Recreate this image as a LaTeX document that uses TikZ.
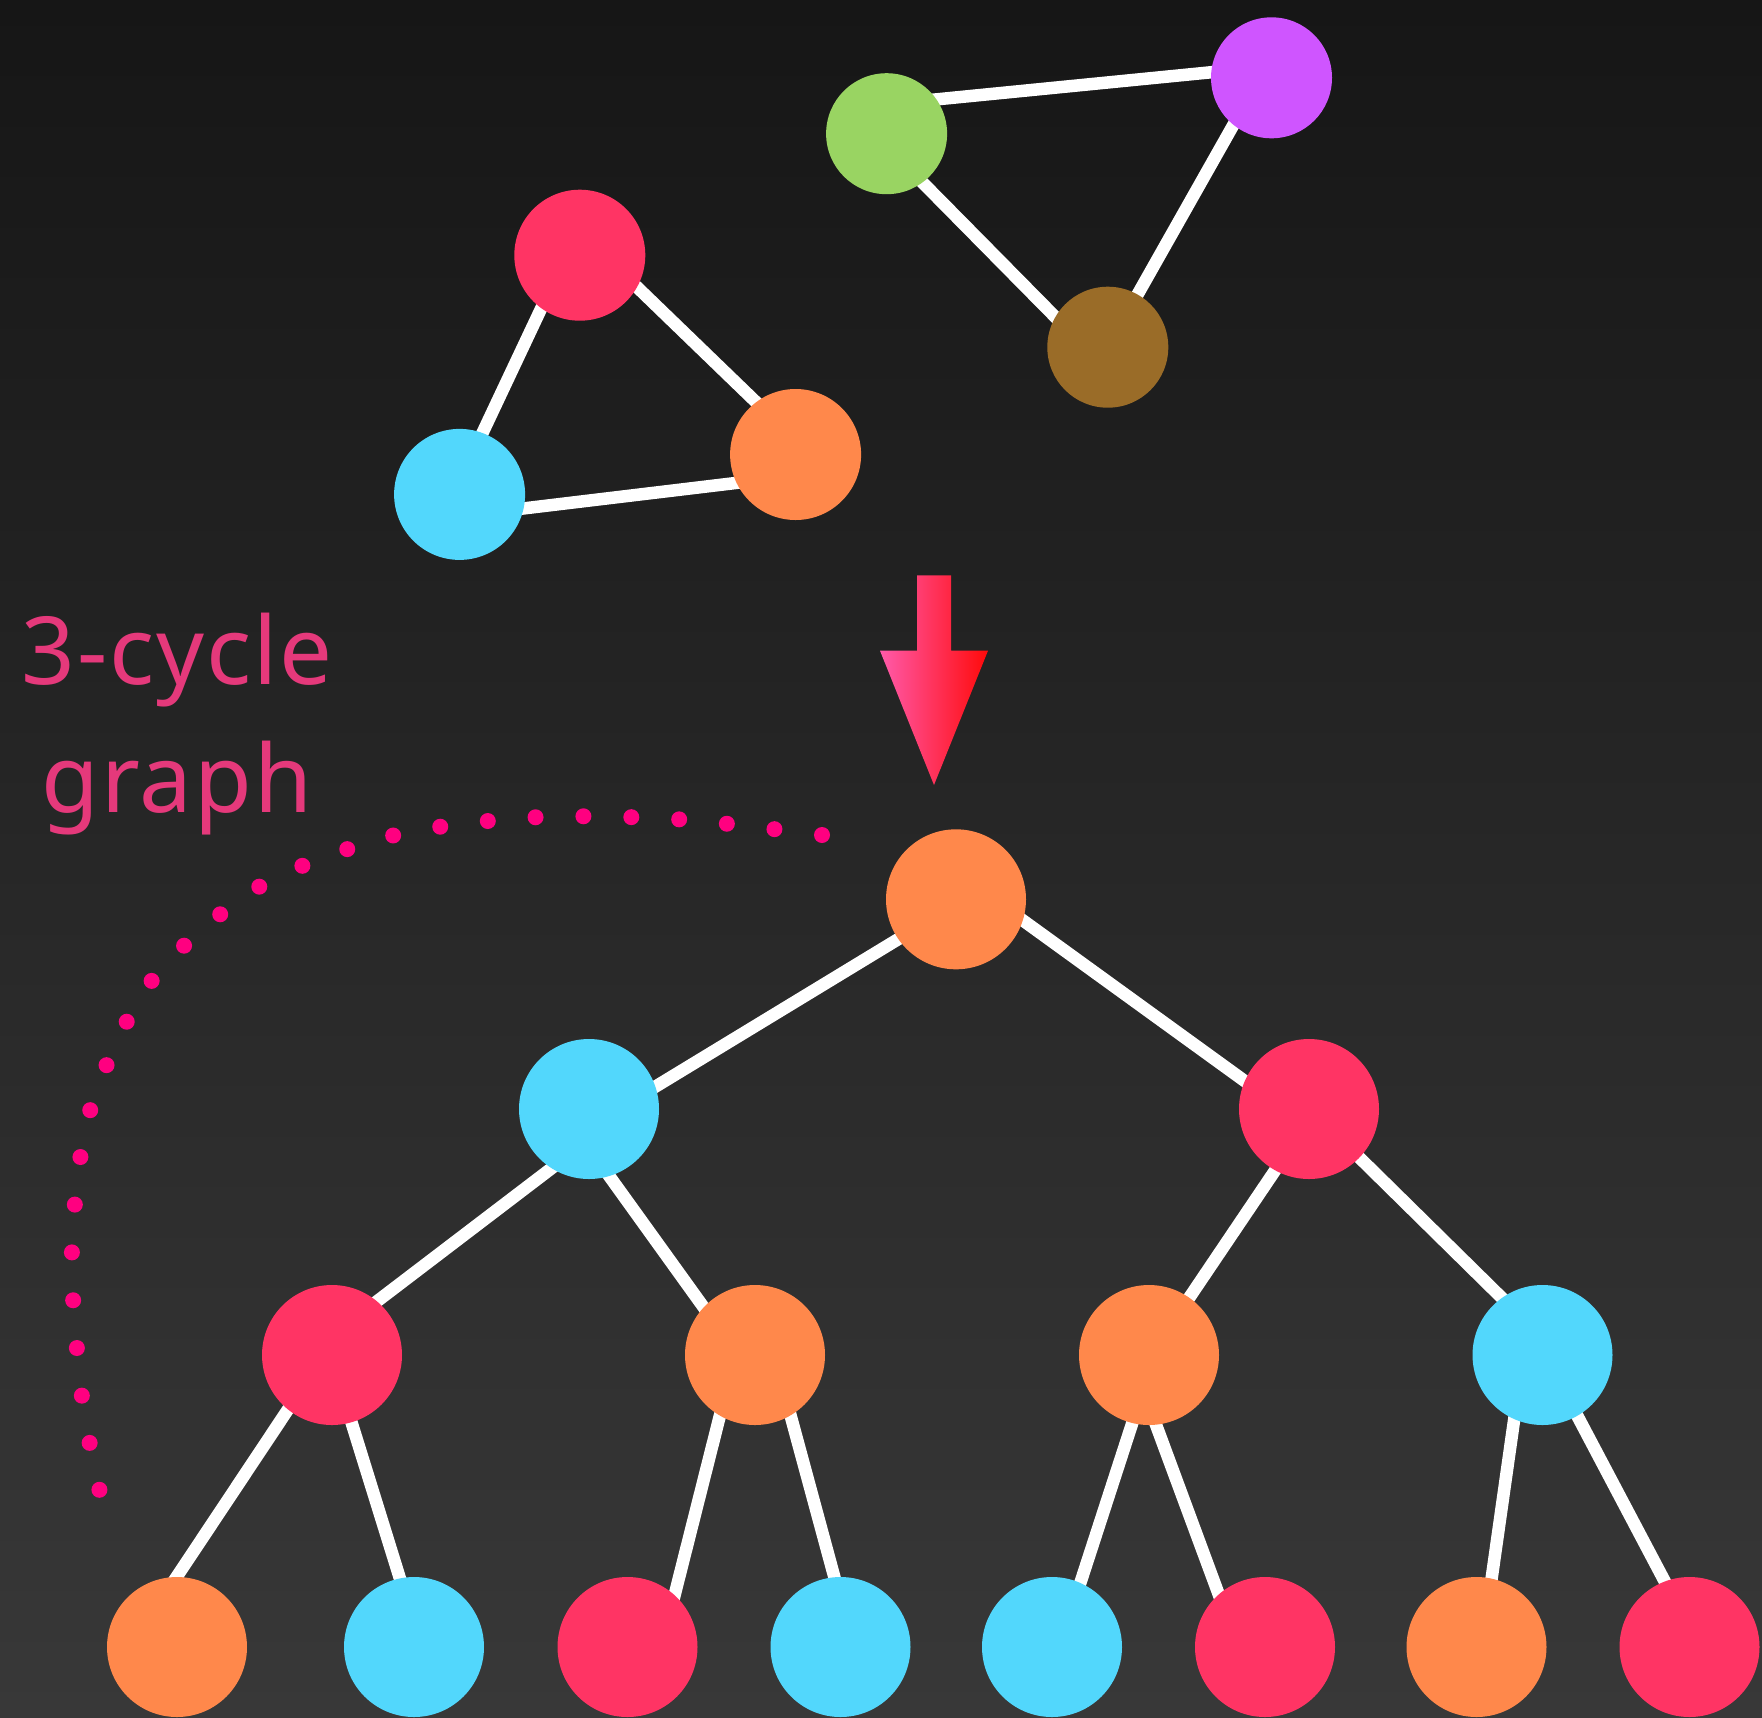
\documentclass[tikz,border=0pt]{standalone}
\usepackage{fontspec}
\newfontfamily\labelfont[LetterSpace=2]{Noto Sans}
\usetikzlibrary{calc}

\definecolor{bgtop}{HTML}{161616}
\definecolor{bgbot}{HTML}{383838}
\definecolor{vorange}{HTML}{FF884B}
\definecolor{vcyan}{HTML}{52D7FC}
\definecolor{vred}{HTML}{FF3464}
\definecolor{vgreen}{HTML}{99D462}
\definecolor{vpurple}{HTML}{CF55FF}
\definecolor{vbrown}{HTML}{9A6C28}
\definecolor{labelpink}{HTML}{E5397B}
\definecolor{dotpink}{HTML}{FF0080}
\definecolor{arrowleft}{HTML}{FF5AAA}
\definecolor{arrowmid}{HTML}{FF3366}
\definecolor{arrowright}{HTML}{FF0A0A}

\pgfdeclarelayer{bg}
\pgfdeclarelayer{edges}
\pgfsetlayers{bg,edges,main}

\begin{document}
\begin{tikzpicture}[x=1pt,y=-1pt,
  vtx/.style={circle,inner sep=0pt,draw=none,minimum size=140pt},
  small/.style={minimum size=121pt},
  mid/.style={minimum size=131pt},
  edge/.style={draw=white,line width=12.5pt},
  lbl/.style={text=labelpink,font=\labelfont\fontsize{94}{120}\selectfont,inner sep=0pt,anchor=base},
  dotted curve/.style={draw=dotpink,line width=16pt,line cap=round,dash pattern=on 0pt off 47.9pt}
]
\useasboundingbox (0,0) rectangle (1762,1717);
\begin{pgfonlayer}{bg}
  \shade[top color=bgtop,bottom color=bgbot] (0,0) rectangle (1762,1717);
\end{pgfonlayer}

% two triangles
\node[vtx,small,fill=vgreen]  (g)  at (886.6,133.7) {};
\node[vtx,small,fill=vpurple] (p)  at (1271.5,77.8) {};
\node[vtx,small,fill=vbrown]  (br) at (1107.8,347.2) {};
\node[vtx,mid,fill=vred]      (r)  at (579.8,255.2) {};
\node[vtx,mid,fill=vcyan]     (c)  at (459.6,494.4) {};
\node[vtx,mid,fill=vorange]   (o)  at (795.6,454.5) {};

% tree
\node[vtx,fill=vorange] (n0)  at (956,899.3) {};
\node[vtx,fill=vcyan]   (n1)  at (589,1109) {};
\node[vtx,fill=vred]    (n2)  at (1309,1109) {};
\node[vtx,fill=vred]    (n11) at (332,1355) {};
\node[vtx,fill=vorange] (n12) at (755,1355) {};
\node[vtx,fill=vorange] (n21) at (1149,1355) {};
\node[vtx,fill=vcyan]   (n22) at (1542.5,1355) {};
\node[vtx,fill=vorange] (l1) at (177,1647) {};
\node[vtx,fill=vcyan]   (l2) at (414,1647) {};
\node[vtx,fill=vred]    (l3) at (627.5,1647) {};
\node[vtx,fill=vcyan]   (l4) at (840.5,1647) {};
\node[vtx,fill=vcyan]   (l5) at (1052,1647) {};
\node[vtx,fill=vred]    (l6) at (1265,1647) {};
\node[vtx,fill=vorange] (l7) at (1476.5,1647) {};
\node[vtx,fill=vred]    (l8) at (1689.5,1647) {};

\begin{pgfonlayer}{edges}
  % triangles
  \draw[edge] ($(g)+(0,-29.4)$) -- ($(p)+(0,-11.5)$);
  \draw[edge] ($(g)+(0,12.4)$) -- ($(br)+(0,23)$);
  \draw[edge] ($(p)+(-11.5,0)$) -- (br.center);
  \draw[edge] ($(r)+(-13.5,0)$) -- ($(c)+(-6.1,0)$);
  \draw[edge] ($(r)+(0,-23.4)$) -- ($(o)+(0,-14.2)$);
  \draw[edge] ($(c)+(0,21.7)$) -- ($(o)+(0,21.3)$);
  % tree
  \draw[edge] ($(n0)+(0,4.7)$) -- ($(n1)+(0,18)$);
  \draw[edge] ($(n0)+(0,-27.4)$) -- ($(n2)+(0,18.6)$);
  \draw[edge] ($(n1)+(0,30.7)$) -- ($(n11)+(0,-19.4)$);
  \draw[edge] ($(n1)+(-28,0)$) -- ($(n12)+(-17,0)$);
  \draw[edge] ($(n2)+(7.5,0)$) -- ($(n21)+(1.6,0)$);
  \draw[edge] ($(n2)+(1,0)$) -- ($(n22)+(17.4,0)$);
  \draw[edge] ($(n11)+(-7.8,0)$) -- ($(l1)+(-47,0)$);
  \draw[edge] ($(n11)+(-1.4,0)$) -- ($(l2)+(7.2,0)$);
  \draw[edge] ($(n12)+(-19.8,0)$) -- ($(l3)+(34,0)$);
  \draw[edge] ($(n12)+(19.2,0)$) -- ($(l4)+(12.8,0)$);
  \draw[edge] ($(n21)+(5.4,0)$) -- ($(l5)+(7.5,0)$);
  \draw[edge] ($(n21)+(-18.8,0)$) -- ($(l6)+(-26.8,0)$);
  \draw[edge] ($(n22)+(-19.2,0)$) -- ($(l7)+(5.4,0)$);
  \draw[edge] ($(n22)+(2.7,0)$) -- ($(l8)+(9.9,0)$);
\end{pgfonlayer}

% gradient arrow
\shade[left color=arrowleft,middle color=arrowmid,right color=arrowright]
  (917,575.3) -- (951,575.3) -- (951,650.7) -- (988,650.7) -- (934,785)
  -- (880,650.7) -- (917,650.7) -- cycle;

% label
\node[lbl] (t1) at (177,684) {3-cycle};
\node[lbl] (t2) at (177,812.7) {graph};

% dotted bracket
\draw[dotted curve] plot[smooth] coordinates {(822,835) (678.6,819.3) (534.7,817.3)
  (392.3,835.7) (258.2,887.3) (151,981.7) (89.9,1111.3) (71.9,1253) (82,1396.8) (100,1492.3)};
\end{tikzpicture}
\end{document}
